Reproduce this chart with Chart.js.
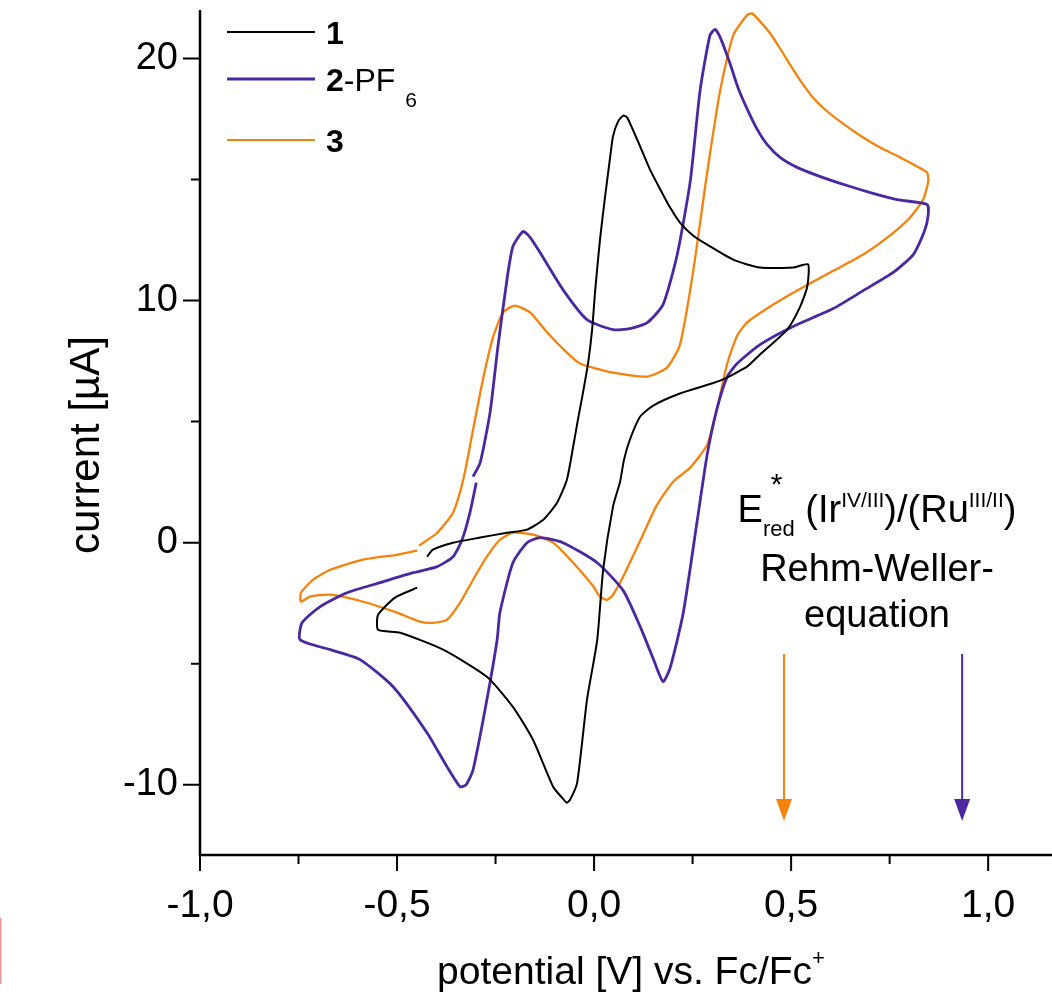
<!DOCTYPE html>
<html>
<head>
<meta charset="utf-8">
<script src="https://cdn.jsdelivr.net/npm/chart.js@4.4.1/dist/chart.umd.min.js"></script>
<style>
  html, body { margin: 0; padding: 0; background: #fff; }
  canvas { display: block; }
</style>
</head>
<body>
<canvas id="cvChart" width="1052" height="992"></canvas>
<script>
// cyclic voltammograms: potential [V] vs Fc/Fc+, current [µA]
const pot1 = [-0.424,-0.409,-0.358,-0.289,-0.221,-0.170,-0.129,-0.094,-0.069,-0.053,-0.041,-0.030,-0.015,-0.005,0.003,0.015,0.028,0.041,0.048,0.061,0.074,0.084,0.117,0.142,0.168,0.193,0.218,0.251,0.287,0.353,0.421,0.505,0.543,0.541,0.523,0.490,0.421,0.388,0.320,0.218,0.150,0.117,0.091,0.076,0.066,0.048,0.023,0.008,-0.018,-0.043,-0.061,-0.069,-0.081,-0.104,-0.155,-0.206,-0.272,-0.383,-0.492,-0.548,-0.548,-0.505,-0.449];
const cur1 = [-0.58,-0.29,0.00,0.21,0.41,0.54,0.95,1.65,2.60,3.97,5.08,6.03,7.44,8.80,10.45,12.52,14.30,15.95,16.78,17.40,17.64,17.56,16.36,15.41,14.59,13.84,13.22,12.69,12.31,11.69,11.36,11.36,11.49,10.58,9.75,8.80,7.77,7.27,6.69,6.16,5.66,5.21,4.26,3.43,2.52,1.49,-1.12,-4.01,-6.49,-9.92,-10.62,-10.74,-10.54,-10.08,-8.14,-6.78,-5.54,-4.42,-3.72,-3.60,-2.98,-2.27,-1.86];

const pot2 = [-0.299,-0.315,-0.335,-0.358,-0.398,-0.459,-0.543,-0.627,-0.695,-0.741,-0.746,-0.670,-0.594,-0.510,-0.424,-0.373,-0.340,-0.325,-0.307,-0.272,-0.246,-0.239,-0.206,-0.170,-0.137,-0.079,0.008,0.074,0.117,0.150,0.175,0.193,0.226,0.261,0.287,0.312,0.338,0.363,0.421,0.505,0.607,0.683,0.759,0.810,0.838,0.848,0.845,0.769,0.701,0.642,0.574,0.515,0.472,0.439,0.414,0.388,0.365,0.345,0.320,0.307,0.294,0.269,0.244,0.211,0.175,0.135,0.091,0.048,-0.018,-0.079,-0.137,-0.162,-0.180,-0.206,-0.221,-0.244,-0.264,-0.289,-0.307];
const cur2 = [2.48,1.24,0.12,-0.58,-0.99,-1.24,-1.65,-2.07,-2.64,-3.31,-4.01,-4.42,-4.83,-5.95,-7.85,-9.26,-10.08,-10.00,-9.38,-6.49,-4.01,-2.89,-0.83,0,0.21,0,-0.83,-1.98,-3.47,-4.79,-5.74,-5.17,-2.93,0.83,3.64,5.54,6.86,7.40,8.18,8.93,9.67,10.41,11.16,11.90,12.85,13.55,13.97,14.17,14.46,14.75,15.12,15.50,15.91,16.45,17.07,17.93,18.80,19.79,20.87,21.20,20.95,18.68,14.92,11.90,9.83,9.09,8.84,8.80,9.21,10.45,11.98,12.60,12.85,12.23,10.87,8.10,5.37,3.31,2.73];

const pot3 = [-0.444,-0.398,-0.358,-0.332,-0.307,-0.282,-0.256,-0.231,-0.201,-0.162,-0.119,-0.069,-0.036,0.048,0.135,0.185,0.218,0.251,0.287,0.320,0.353,0.388,0.401,0.421,0.447,0.472,0.497,0.523,0.553,0.586,0.624,0.675,0.726,0.777,0.815,0.845,0.848,0.835,0.802,0.751,0.683,0.599,0.515,0.439,0.388,0.363,0.338,0.312,0.287,0.244,0.201,0.160,0.117,0.074,0.048,0.033,0.015,-0.003,-0.053,-0.104,-0.155,-0.206,-0.239,-0.272,-0.307,-0.340,-0.373,-0.409,-0.442,-0.500,-0.586,-0.670,-0.721,-0.744,-0.744,-0.713,-0.670,-0.586,-0.500,-0.449];
const cur3 = [-0.12,0.41,1.24,2.60,4.67,6.74,8.51,9.50,9.79,9.50,8.68,7.85,7.40,7.02,6.86,7.23,8.18,11.16,15.29,18.68,20.95,21.78,21.86,21.53,21.03,20.41,19.75,19.09,18.43,17.89,17.40,16.82,16.32,15.91,15.58,15.29,14.92,14.17,13.43,12.69,11.90,11.16,10.41,9.67,9.09,8.55,7.40,5.54,4.05,3.10,2.52,1.57,0.08,-1.40,-2.15,-2.36,-2.23,-1.78,-0.83,0,0.33,0.41,0.12,-0.58,-1.53,-2.48,-3.18,-3.31,-3.26,-2.89,-2.44,-2.15,-2.23,-2.44,-2.07,-1.53,-1.12,-0.70,-0.50,-0.33];

// axis ticks
const xMajorTicks = [-1.0, -0.5, 0.0, 0.5, 1.0];
const xMinorTicks = [-0.75, -0.25, 0.25, 0.75];
const yMajorTicks = [-10, 0, 10, 20];
const yMinorTicks = [-5, 5, 15];

// excited state reduction potentials (Rehm-Weller) marked by arrows
const arrowPot = [0.482, 0.934];
const arrowColors = ['#f5820a', '#4b27a0'];
const arrowStart = -4.6;
const arrowEnd = -11.5;

const FONT = '"Liberation Sans", Arial, sans-serif';
const colBlack = '#000000';
const colPurple = '#4b27a0';
const colOrange = '#f5820a';

function toPoints(xs, ys) {
    return xs.map((v, i) => ({ x: v, y: ys[i] }));
}

// draw a run of text pieces, some raised/lowered and smaller
function drawRuns(ctx, runs, cx, baseline) {
    let total = 0;
    runs.forEach(r => {
        ctx.font = (r.bold ? 'bold ' : '') + r.size + 'px ' + FONT;
        r.w = r.noAdvance ? 0 : ctx.measureText(r.t).width;
        total += r.w;
    });
    let x = cx - total / 2;
    ctx.textAlign = 'left';
    ctx.textBaseline = 'alphabetic';
    runs.forEach(r => {
        ctx.font = (r.bold ? 'bold ' : '') + r.size + 'px ' + FONT;
        ctx.fillText(r.t, x + (r.dx || 0), baseline + (r.dy || 0));
        x += r.w;
    });
}

const decorPlugin = {
    id: 'decor',
    afterDraw(chart) {
        const { ctx, chartArea: a, scales: { x, y } } = chart;
        ctx.save();
        ctx.strokeStyle = '#000';
        ctx.fillStyle = '#000';

        // axis lines
        ctx.lineWidth = 2.5;
        ctx.beginPath();
        ctx.moveTo(a.left, a.top);
        ctx.lineTo(a.left, a.bottom);
        ctx.lineTo(a.right, a.bottom);
        ctx.stroke();

        // tick marks (outside)
        ctx.lineWidth = 2;
        ctx.beginPath();
        xMajorTicks.forEach(v => { const px = x.getPixelForValue(v); ctx.moveTo(px, a.bottom); ctx.lineTo(px, a.bottom + 16); });
        xMinorTicks.forEach(v => { const px = x.getPixelForValue(v); ctx.moveTo(px, a.bottom); ctx.lineTo(px, a.bottom + 9); });
        yMajorTicks.forEach(v => { const py = y.getPixelForValue(v); ctx.moveTo(a.left, py); ctx.lineTo(a.left - 17, py); });
        yMinorTicks.forEach(v => { const py = y.getPixelForValue(v); ctx.moveTo(a.left, py); ctx.lineTo(a.left - 9, py); });
        ctx.stroke();

        // axis titles
        ctx.save();
        ctx.translate(87, 445);
        ctx.rotate(-Math.PI / 2);
        ctx.font = '42px ' + FONT;
        ctx.textAlign = 'center';
        ctx.textBaseline = 'middle';
        ctx.fillText('current [µA]', 0, 0);
        ctx.restore();

        drawRuns(ctx, [
            { t: 'potential [V] vs. Fc/Fc', size: 39 },
            { t: '+', size: 22, dy: -19 }
        ], 631, 984);

        // legend
        const legendRows = [
            { col: colBlack, lw: 1.8, y: 32, runs: [{ t: '1', size: 32, bold: true }] },
            { col: colPurple, lw: 2.8, y: 79, runs: [{ t: '2', size: 32, bold: true }, { t: '-PF', size: 32 }, { t: '6', size: 21, dy: 16, dx: 10 }] },
            { col: colOrange, lw: 2.2, y: 140, runs: [{ t: '3', size: 32, bold: true }] }
        ];
        legendRows.forEach(row => {
            ctx.strokeStyle = row.col;
            ctx.lineWidth = row.lw;
            ctx.beginPath();
            ctx.moveTo(227, row.y);
            ctx.lineTo(315, row.y);
            ctx.stroke();
            let lx = 326;
            ctx.fillStyle = '#000';
            ctx.textAlign = 'left';
            ctx.textBaseline = 'alphabetic';
            row.runs.forEach(r => {
                ctx.font = (r.bold ? 'bold ' : '') + r.size + 'px ' + FONT;
                ctx.fillText(r.t, lx + (r.dx || 0), row.y + 12 + (r.dy || 0));
                lx += ctx.measureText(r.t).width;
            });
        });

        // annotation text
        ctx.fillStyle = '#000';
        ctx.font = '22px ' + FONT;
        const redW = ctx.measureText('red').width;
        const line1 = [
            { t: 'E', size: 38 },
            { t: '*', size: 30, dy: -28, dx: redW / 2 - 8, noAdvance: true },
            { t: 'red', size: 22, dy: 14 },
            { t: ' (Ir', size: 38 },
            { t: 'IV/III', size: 21, dy: -15 },
            { t: ')/(Ru', size: 38 },
            { t: 'III/II', size: 21, dy: -15 },
            { t: ')', size: 38 }
        ];
        drawRuns(ctx, line1, 877, 522);
        ctx.font = '38px ' + FONT;
        ctx.textAlign = 'center';
        ctx.fillText('Rehm-Weller-', 877, 581);
        ctx.fillText('equation', 877, 627);

        // arrows
        arrowPot.forEach((p, i) => {
            const px = x.getPixelForValue(p);
            const y0 = y.getPixelForValue(arrowStart);
            const y1 = y.getPixelForValue(arrowEnd);
            ctx.strokeStyle = arrowColors[i];
            ctx.fillStyle = arrowColors[i];
            ctx.lineWidth = 2;
            ctx.beginPath();
            ctx.moveTo(px, y0);
            ctx.lineTo(px, y1 - 20);
            ctx.stroke();
            ctx.beginPath();
            ctx.moveTo(px - 8, y1 - 22);
            ctx.lineTo(px + 8, y1 - 22);
            ctx.lineTo(px, y1);
            ctx.closePath();
            ctx.fill();
        });

        // faint red edge at the lower left
        ctx.strokeStyle = 'rgba(200, 70, 70, 0.55)';
        ctx.lineWidth = 2;
        ctx.beginPath();
        ctx.moveTo(0.5, 918);
        ctx.lineTo(0.5, 984);
        ctx.stroke();

        ctx.restore();
    }
};

const ctx = document.getElementById('cvChart').getContext('2d');
const cvChart = new Chart(ctx, {
    type: 'scatter',
    data: {
        datasets: [
            { label: '1', data: toPoints(pot1, cur1), borderColor: colBlack, borderWidth: 2 },
            { label: '2-PF6', data: toPoints(pot2, cur2), borderColor: colPurple, borderWidth: 2.8 },
            { label: '3', data: toPoints(pot3, cur3), borderColor: colOrange, borderWidth: 2.3 }
        ].map(ds => Object.assign(ds, { showLine: true, pointRadius: 0, tension: 0.2, fill: false }))
    },
    options: {
        responsive: false,
        animation: false,
        layout: { padding: { top: 10, right: 0, left: 0, bottom: 0 } },
        plugins: {
            legend: { display: false },
            tooltip: { enabled: false }
        },
        scales: {
            x: {
                type: 'linear',
                min: -1.0,
                max: 1.162,
                afterFit: s => { s.height = 137; s.paddingLeft = 0; s.paddingRight = 0; },
                grid: { display: false, drawTicks: false },
                border: { display: false },
                ticks: {
                    stepSize: 0.5,
                    includeBounds: false,
                    padding: 28,
                    color: '#000',
                    maxRotation: 0,
                    autoSkip: false,
                    font: { family: FONT, size: 39 },
                    callback: v => xMajorTicks.some(t => Math.abs(t - v) < 1e-6) ? v.toFixed(1).replace('.', ',') : ''
                }
            },
            y: {
                type: 'linear',
                min: -12.9,
                max: 22.0,
                afterFit: s => { s.width = 200; s.paddingTop = 0; s.paddingBottom = 0; },
                grid: { display: false, drawTicks: false },
                border: { display: false },
                ticks: {
                    stepSize: 10,
                    includeBounds: false,
                    padding: 22,
                    color: '#000',
                    font: { family: FONT, size: 38 },
                    callback: v => yMajorTicks.includes(v) ? String(v) : ''
                }
            }
        }
    },
    plugins: [decorPlugin]
});
</script>
</body>
</html>
